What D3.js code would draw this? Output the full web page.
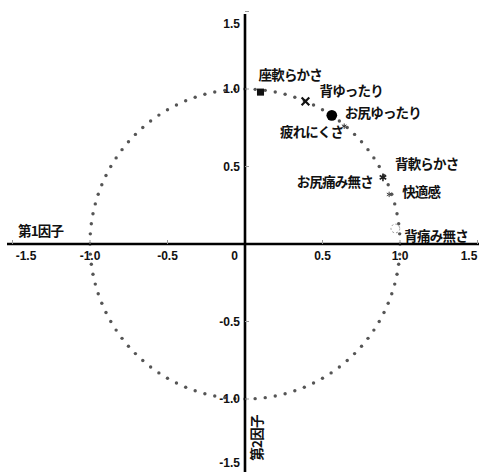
<!DOCTYPE html>
<html><head><meta charset="utf-8">
<script src="https://cdn.jsdelivr.net/npm/d3@7"></script>
<style>
html,body{margin:0;padding:0;background:#fff;}
svg{display:block;}
.tick{font-family:"Liberation Sans",Arial,sans-serif;font-size:12px;font-weight:bold;fill:#111;}
.lbl{font-family:"Noto Sans CJK JP",sans-serif;font-size:13.5px;font-weight:bold;fill:#111;letter-spacing:-0.8px;}
</style></head>
<body>
<script>
// ---- data ----
const tickValues = [-1.5, -1.0, -0.5, 0, 0.5, 1.0, 1.5];
const tickLabels = ["-1.5", "-1.0", "-0.5", "0", "0.5", "1.0", "1.5"];
const items   = ["座軟らかさ", "背ゆったり", "お尻ゆったり", "疲れにくさ", "背軟らかさ", "お尻痛み無さ", "快適感", "背痛み無さ"];
const factor1 = [0.10, 0.39, 0.56, 0.64, 0.89, 0.89, 0.93, 0.97];
const factor2 = [0.98, 0.92, 0.83, 0.76, 0.43, 0.41, 0.32, 0.10];
const axisNames = ["第1因子", "第2因子"];
const circleCount = 96;

// ---- layout ----
const W = 481, H = 472;
const cx = 245, cy = 244, unit = 155;
const x = d3.scaleLinear().domain([0, 1]).range([cx, cx + unit]);
const y = d3.scaleLinear().domain([0, 1]).range([cy, cy - unit]);

const svg = d3.select("body").append("svg").attr("width", W).attr("height", H);

// unit circle dots
const circ = d3.range(circleCount).map(i => {
  const a = i / circleCount * 2 * Math.PI;
  return [Math.cos(a), Math.sin(a)];
});
svg.append("g").selectAll("circle").data(circ).join("circle")
  .attr("cx", d => x(d[0])).attr("cy", d => y(d[1]))
  .attr("r", 1.7).attr("fill", "#555");

// axes
svg.append("line").attr("x1", 7).attr("x2", 479).attr("y1", y(0)).attr("y2", y(0))
  .attr("stroke", "#000").attr("stroke-width", 2.6);
svg.append("line").attr("x1", x(0)).attr("x2", x(0)).attr("y1", 14).attr("y2", H)
  .attr("stroke", "#000").attr("stroke-width", 2.6);

// small tick marks
tickValues.filter(v => v !== 0).forEach(v => {
  svg.append("line").attr("x1", x(v)).attr("x2", x(v)).attr("y1", y(0) - 4).attr("y2", y(0))
    .attr("stroke", "#999").attr("stroke-width", 1);
  svg.append("line").attr("x1", x(0)).attr("x2", x(0) + 4).attr("y1", y(v)).attr("y2", y(v))
    .attr("stroke", "#999").attr("stroke-width", 1);
});

// x tick labels
tickValues.forEach((v, i) => {
  let px = Math.max(26, Math.min(469, x(v)));
  let anchor = "middle";
  if (v === 0) { px = x(0) - 7; anchor = "end"; }
  svg.append("text").attr("class", "tick").attr("x", px).attr("y", y(0) + 16)
    .attr("text-anchor", anchor).text(tickLabels[i]);
});
// y tick labels
tickValues.forEach((v, i) => {
  if (v === 0) return;
  const py = Math.max(24, Math.min(463, y(v)));
  svg.append("text").attr("class", "tick").attr("x", x(0) - 5).attr("y", py + 4)
    .attr("text-anchor", "end").text(tickLabels[i]);
});

// axis names
svg.append("text").attr("class", "lbl").attr("x", 18).attr("y", 236).text(axisNames[0]);
svg.append("text").attr("class", "lbl").attr("text-anchor", "middle")
  .attr("transform", `translate(${x(0) + 17},438) rotate(-90)`)
  .text(axisNames[1]);

// markers
const markerStyle = [
  {type: d3.symbolSquare, size: 50, fill: "#111", stroke: "none"},
  {type: d3.symbolTimes, size: 40, fill: "none", stroke: "#111", sw: 2.2},
  {type: d3.symbolCircle, size: 90, fill: "#000", stroke: "none"},
  {type: d3.symbolAsterisk, size: 20, fill: "none", stroke: "#333", sw: 1},
  {type: d3.symbolAsterisk, size: 40, fill: "none", stroke: "#222", sw: 1.6},
  {type: d3.symbolPlus, size: 30, fill: "#333", stroke: "none"},
  {type: d3.symbolAsterisk, size: 20, fill: "none", stroke: "#444", sw: 1},
  {type: d3.symbolCircle, size: 60, fill: "none", stroke: "#999", sw: 1, dash: "2,2"}
];
const labelPos = [
  {dx: -2, dy: -18, anchor: "start"},
  {dx: 14, dy: -11, anchor: "start"},
  {dx: 13, dy: -3, anchor: "start"},
  {dx: -1, dy: 5, anchor: "end"},
  {dx: 12, dy: -14, anchor: "start"},
  {dx: -10, dy: 1, anchor: "end"},
  {dx: 13, dy: -3, anchor: "start"},
  {dx: 9, dy: 6, anchor: "start"}
];
items.forEach((name, i) => {
  const px = x(factor1[i]), py = y(factor2[i]);
  const m = markerStyle[i];
  svg.append("path").attr("d", d3.symbol(m.type, m.size)())
    .attr("transform", `translate(${px},${py})`)
    .attr("fill", m.fill).attr("stroke", m.stroke)
    .attr("stroke-width", m.sw || 0).attr("stroke-dasharray", m.dash || null);
  const lp = labelPos[i];
  svg.append("text").attr("class", "lbl").attr("x", px + lp.dx).attr("y", py + lp.dy)
    .attr("dominant-baseline", "central").attr("text-anchor", lp.anchor).text(name);
});
</script>
</body></html>
